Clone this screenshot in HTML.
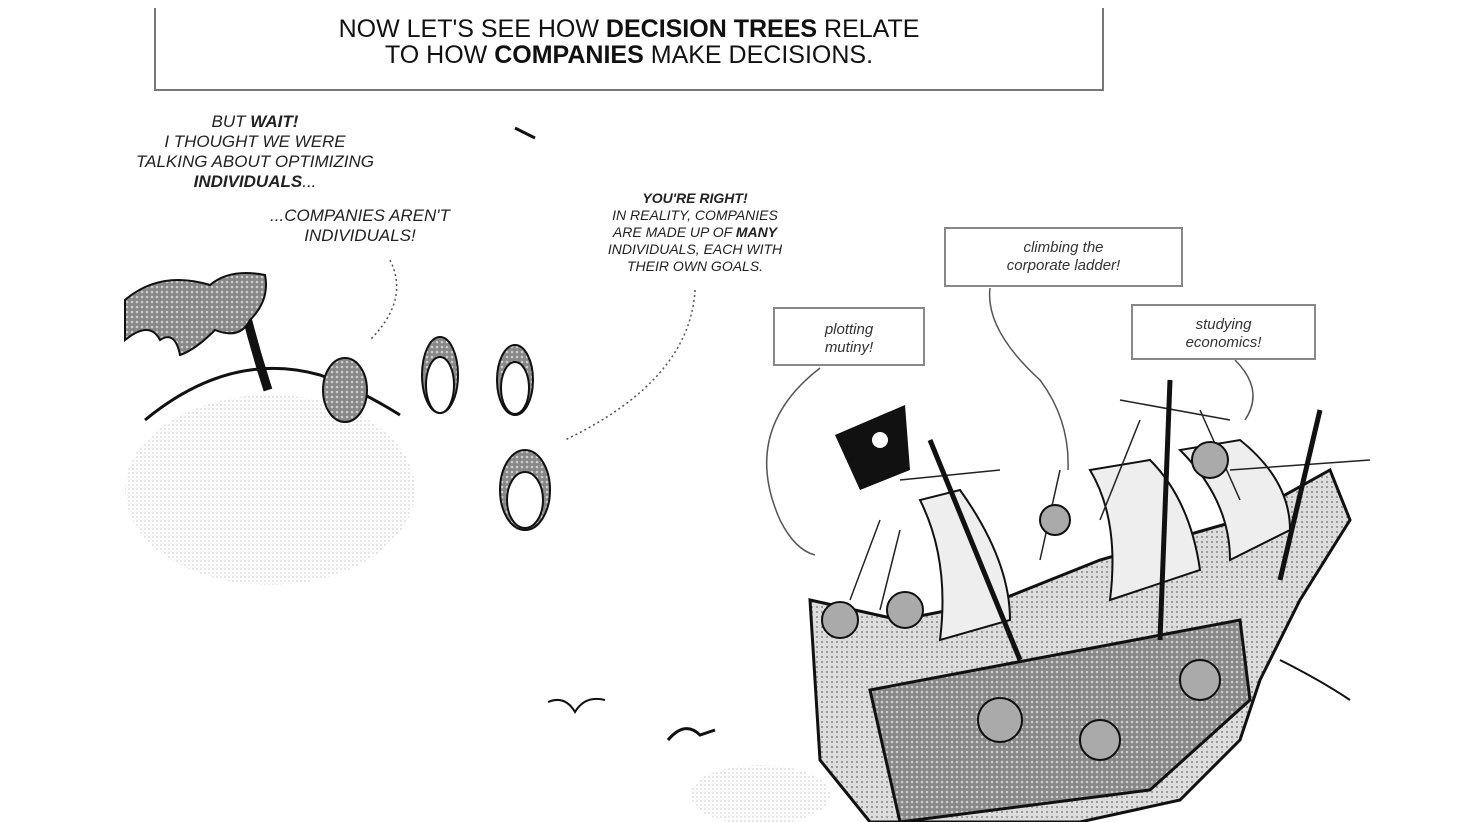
<!DOCTYPE html>
<html><head><meta charset="utf-8"><style>
html,body{margin:0;padding:0;background:#fff;}
body{width:1460px;height:822px;position:relative;overflow:hidden;font-family:"Liberation Sans",sans-serif;}
.t{position:absolute;white-space:nowrap;color:#222;font-style:italic;text-align:center;}
.box{position:absolute;border:2px solid #888;box-sizing:border-box;font-family:"Liberation Sans",sans-serif;font-style:italic;font-size:15px;color:#333;text-align:center;line-height:18px;}
</style></head><body>
<svg width="1460" height="822" style="position:absolute;left:0;top:0">
<defs>
<pattern id="dots" width="4" height="4" patternUnits="userSpaceOnUse"><circle cx="1" cy="1" r="0.6" fill="#aaa"/><circle cx="3" cy="3" r="0.4" fill="#ccc"/></pattern>
<pattern id="hatch" width="5" height="5" patternUnits="userSpaceOnUse"><rect width="5" height="5" fill="#888"/><circle cx="2" cy="2" r="1.3" fill="#ccc"/></pattern>
<pattern id="light" width="5" height="5" patternUnits="userSpaceOnUse"><rect width="5" height="5" fill="#ddd"/><circle cx="2" cy="2" r="1" fill="#888"/></pattern>
</defs>
<path d="M155 8 V90 H1103 V8" fill="none" stroke="#777" stroke-width="2"/>
<!-- island -->
<ellipse cx="270" cy="490" rx="145" ry="95" fill="url(#dots)"/>
<path d="M145 420 Q230 350 320 375 Q360 390 400 415" fill="none" stroke="#111" stroke-width="3"/>
<path d="M245 310 Q255 350 268 390" stroke="#111" stroke-width="9" fill="none"/>
<path d="M125 300 Q160 270 210 285 Q230 268 265 275 Q270 300 250 320 Q240 340 215 330 Q195 350 180 355 Q175 330 160 340 Q150 320 125 340 Z" fill="url(#hatch)" stroke="#111" stroke-width="2"/>
<!-- characters -->
<g fill="url(#hatch)" stroke="#111" stroke-width="2">
<ellipse cx="345" cy="390" rx="22" ry="32"/><ellipse cx="440" cy="375" rx="18" ry="38"/><ellipse cx="515" cy="380" rx="18" ry="35"/><ellipse cx="525" cy="490" rx="25" ry="40"/>
</g>
<g fill="#fff" stroke="#111" stroke-width="2">
<ellipse cx="440" cy="385" rx="14" ry="28"/><ellipse cx="515" cy="388" rx="14" ry="26"/><ellipse cx="525" cy="500" rx="18" ry="28"/>
</g>
<path d="M390 260 Q410 300 370 340" fill="none" stroke="#555" stroke-width="1.5" stroke-dasharray="2 3"/>
<path d="M695 290 Q690 380 565 440" fill="none" stroke="#555" stroke-width="1.5" stroke-dasharray="2 3"/>
<!-- birds -->
<path d="M548 702 Q565 695 575 712 Q585 695 605 700" fill="none" stroke="#111" stroke-width="2"/>
<path d="M668 740 Q685 720 700 735 L715 730" fill="none" stroke="#111" stroke-width="3"/>
<path d="M515 128 L535 138" stroke="#111" stroke-width="3"/>
<ellipse cx="760" cy="795" rx="70" ry="30" fill="url(#dots)"/>
<!-- arrows -->
<g fill="none" stroke="#555" stroke-width="1.5">
<path d="M820 368 Q740 430 780 520 Q795 550 815 555"/>
<path d="M990 288 Q985 330 1040 380 Q1070 420 1068 470"/>
<path d="M1235 360 Q1265 390 1245 420"/>
</g>
<!-- ship -->
<path d="M810 600 L900 620 L1000 600 L1100 560 L1240 520 L1330 470 L1350 520 L1300 600 L1260 680 L1240 740 L1180 800 L1080 822 L870 822 L820 760 Z" fill="url(#light)" stroke="#111" stroke-width="3"/>
<path d="M870 690 L1240 620 L1250 700 L1150 790 L900 822 Z" fill="url(#hatch)" stroke="#111" stroke-width="3"/>
<g fill="#eee" stroke="#111" stroke-width="2">
<path d="M920 500 Q950 560 940 640 L1010 620 Q1010 560 960 490 Z"/>
<path d="M1090 470 Q1120 520 1110 600 L1200 570 Q1190 500 1150 460 Z"/>
<path d="M1180 450 Q1230 500 1230 560 L1290 530 Q1290 480 1240 440 Z"/>
</g>
<g stroke="#222" stroke-width="1.5">
<line x1="880" y1="520" x2="850" y2="600"/><line x1="900" y1="530" x2="880" y2="610"/><line x1="1060" y1="470" x2="1040" y2="560"/><line x1="1140" y1="420" x2="1100" y2="520"/><line x1="1200" y1="410" x2="1240" y2="500"/><line x1="1120" y1="400" x2="1230" y2="420"/><line x1="900" y1="480" x2="1000" y2="470"/><line x1="1230" y1="470" x2="1370" y2="460"/>
</g>
<g stroke="#111" stroke-width="5">
<line x1="930" y1="440" x2="1020" y2="660"/><line x1="1170" y1="380" x2="1160" y2="640"/><line x1="1320" y1="410" x2="1280" y2="580"/>
</g>
<path d="M835 435 L905 405 L910 470 L860 490 Z" fill="#111"/>
<circle cx="880" cy="440" r="8" fill="#fff"/>
<g fill="#aaa" stroke="#111" stroke-width="2">
<circle cx="840" cy="620" r="18"/><circle cx="905" cy="610" r="18"/><circle cx="1055" cy="520" r="15"/><circle cx="1210" cy="460" r="18"/><circle cx="1000" cy="720" r="22"/><circle cx="1100" cy="740" r="20"/><circle cx="1200" cy="680" r="20"/>
</g>
<path d="M1280 660 Q1320 680 1350 700" stroke="#111" stroke-width="2" fill="none"/>
</svg>
<div class="t" style="left:155px;width:948px;top:16px;font-size:25px;line-height:26px;color:#111;font-style:normal;">NOW LET'S SEE HOW <b>DECISION TREES</b> RELATE<br>TO HOW <b>COMPANIES</b> MAKE DECISIONS.</div>
<div class="t" style="left:60px;width:390px;top:112px;font-size:17px;line-height:20px;">BUT <b>WAIT!</b><br>I THOUGHT WE WERE<br>TALKING ABOUT OPTIMIZING<br><b>INDIVIDUALS</b>...</div>
<div class="t" style="left:210px;width:300px;top:206px;font-size:17px;line-height:20px;">...COMPANIES AREN'T<br>INDIVIDUALS!</div>
<div class="t" style="left:550px;width:290px;top:190px;font-size:14px;line-height:17px;"><b>YOU'RE RIGHT!</b><br>IN REALITY, COMPANIES<br>ARE MADE UP OF <b>MANY</b><br>INDIVIDUALS, EACH WITH<br>THEIR OWN GOALS.</div>
<div class="box" style="left:773px;top:307px;width:152px;height:59px;padding-top:12px;">plotting<br>mutiny!</div>
<div class="box" style="left:944px;top:227px;width:239px;height:60px;padding-top:10px;">climbing the<br>corporate ladder!</div>
<div class="box" style="left:1131px;top:304px;width:185px;height:56px;padding-top:10px;">studying<br>economics!</div>
</body></html>
